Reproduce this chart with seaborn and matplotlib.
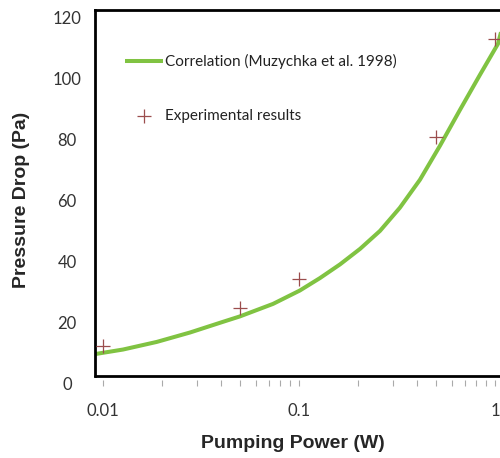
import numpy as np
import pandas as pd
import matplotlib
matplotlib.use("Agg")
import matplotlib.pyplot as plt
import seaborn as sns
from matplotlib.ticker import FixedLocator, FixedFormatter, LogLocator, NullFormatter

# ---- data ----
corr_power = [0.0091, 0.01265, 0.0188, 0.0278, 0.0409, 0.050, 0.0737, 0.101, 0.128,
              0.162, 0.205, 0.259, 0.327, 0.414, 0.524, 0.663, 0.838, 1.036, 1.08]
corr_dp = [9.5, 11.0, 13.5, 16.6, 20.1, 21.9, 26.0, 30.4, 34.5,
           39.0, 44.1, 50.0, 57.6, 66.8, 78.0, 89.8, 101.3, 111.5, 116.0]
exp_power = [0.01, 0.05, 0.1, 0.5, 1.0]
exp_dp = [12.2, 24.6, 34.1, 81.0, 113.0]
xtick_vals = [0.01, 0.1, 1]
xtick_labels = ["0.01", "0.1", "1"]
ytick_vals = [0, 20, 40, 60, 80, 100, 120]
ytick_labels = ["0", "20", "40", "60", "80", "100", "120"]
corr_label = "Correlation (Muzychka et al. 1998)"
exp_label = "Experimental results"
xlabel = "Pumping Power (W)"
ylabel = "Pressure Drop (Pa)"

sns.set_style("white")
plt.rcParams["font.family"] = ["Lato", "DejaVu Sans"]

W, H = 500, 458
fig = plt.figure(figsize=(W / 100, H / 100), dpi=100)
ax = fig.add_axes([95 / W, (H - 383) / H, (500 - 95) / W, (383 - 10) / H])

df_corr = pd.DataFrame({"x": corr_power, "y": corr_dp})
df_exp = pd.DataFrame({"x": exp_power, "y": exp_dp})

sns.lineplot(data=df_corr, x="x", y="y", ax=ax, color="#80c342", linewidth=2.9,
             label=corr_label, solid_joinstyle="round", solid_capstyle="butt")
sns.scatterplot(data=df_exp, x="x", y="y", ax=ax, marker="+", s=90, color="#9b4d4d",
                linewidth=0.9, label=exp_label, zorder=5)

ax.set_xscale("log")
xmin = 10 ** (-2 - 8 / 196)
xmax = 10 ** ((500 - 103) / 196 - 2)
ax.set_xlim(xmin, xmax)
ybot_line = 2.3
ax.set_ylim(0, 122.6)

ax.xaxis.set_major_locator(FixedLocator(xtick_vals))
ax.xaxis.set_major_formatter(FixedFormatter(xtick_labels))
ax.xaxis.set_minor_locator(LogLocator(base=10, subs=np.arange(2, 10)))
ax.xaxis.set_minor_formatter(NullFormatter())
ax.yaxis.set_major_locator(FixedLocator(ytick_vals))
ax.yaxis.set_major_formatter(FixedFormatter(ytick_labels))

ax.tick_params(axis="x", which="both", direction="inout", length=5, width=0.8,
               color="#aaaaaa", bottom=True, labelsize=12, labelcolor="#333333", pad=12)
ax.tick_params(axis="y", which="both", length=0, labelsize=12, labelcolor="#333333", pad=20)
for lab in ax.get_yticklabels():
    lab.set_ha("center")

for s in ["right", "bottom"]:
    ax.spines[s].set_visible(False)
for s in ["left", "top"]:
    ax.spines[s].set_color("black")
    ax.spines[s].set_linewidth(2.0)
ax.spines["left"].set_bounds(ybot_line, 122.6)
ax.axhline(ybot_line, color="black", linewidth=2.0, zorder=6, clip_on=False)

ax.set_xlabel("")
ax.set_ylabel("")
fig.text(293 / W, 1 - 444 / H, xlabel, ha="center", va="center", fontsize=14,
         fontweight="bold", family="Liberation Sans")
fig.text(22 / W, 1 - 200 / H, ylabel, ha="center", va="center", rotation=90,
         fontsize=14, fontweight="bold", family="Liberation Sans")

leg = ax.legend(loc="center left", bbox_to_anchor=((125 - 95) / 405, (383 - 88.5) / 373),
                frameon=False, fontsize=11, handlelength=2.5, handletextpad=0.1,
                labelspacing=2.6, borderpad=0, borderaxespad=0)
for t in leg.get_texts():
    t.set_color("#222222")

fig.savefig("out.png", dpi=100)
